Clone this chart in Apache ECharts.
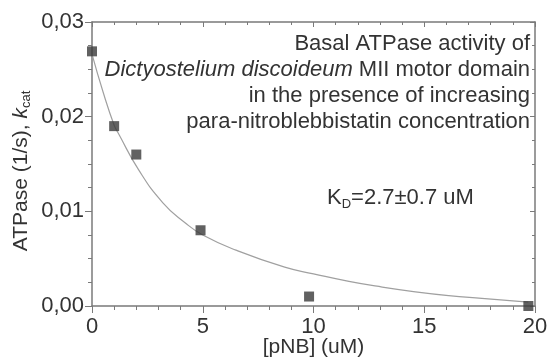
<!DOCTYPE html>
<html>
<head>
<meta charset="utf-8">
<script src="https://cdn.jsdelivr.net/npm/echarts@6/dist/echarts.min.js"></script>
<style>
  html, body { margin: 0; padding: 0; background: #fff; }
  #chart { width: 547px; height: 358px; }
</style>
</head>
<body>
<div id="chart"></div>
<script>
// measured points
const pnbConc = [0, 1, 2, 4.9, 9.8, 19.7];
const atpaseRate = [0.0269, 0.019, 0.016, 0.008, 0.001, 0.0];

// fitted curve
const fitX = [0, 0.5, 1, 1.2, 2.1, 3.2, 4.2, 5, 6.5, 8.7, 10, 11.6, 13.1, 14.6, 16.1, 17.6, 19.7];
const fitY = [0.0266, 0.0226, 0.0191, 0.0182, 0.0144, 0.0109, 0.0088, 0.0075, 0.0059, 0.0041, 0.0034, 0.0026, 0.0020, 0.0015, 0.0011, 0.0008, 0.0004];

const xTicks = [0, 5, 10, 15, 20];
const yTicks = [0, 0.01, 0.02, 0.03];

const noteLines = [
  "Basal ATPase activity of",
  "{i|Dictyostelium discoideum} MII motor domain",
  "in the presence of increasing",
  "para-nitroblebbistatin concentration"
];
const kdText = "K{s|D}=2.7±0.7 uM";

const axisGrey = "#7a7a7a";
const textCol = "#333";
const font = "'Liberation Sans', Arial, sans-serif";

const chart = echarts.init(document.getElementById("chart"), null, { renderer: "canvas" });

const fitData = fitX.map((x, i) => [x, fitY[i]]);
const pointData = pnbConc.map((x, i) => [x, atpaseRate[i]]);

const baseX = {
  type: "value",
  min: xTicks[0],
  max: xTicks[xTicks.length - 1],
  interval: 5,
  splitLine: { show: false },
  axisLine: { show: true, onZero: false, lineStyle: { color: axisGrey, width: 1.5 } },
  minorTick: { show: true, splitNumber: 5, length: 4, lineStyle: { color: axisGrey, width: 1 } },
  axisTick: { show: true, length: 7, lineStyle: { color: axisGrey, width: 1 } }
};
const baseY = {
  type: "value",
  min: yTicks[0],
  max: yTicks[yTicks.length - 1],
  interval: 0.01,
  splitLine: { show: false },
  axisLine: { show: true, onZero: false, lineStyle: { color: axisGrey, width: 1.5 } },
  minorTick: { show: true, splitNumber: 4, length: 4, lineStyle: { color: axisGrey, width: 1 } },
  axisTick: { show: true, length: 7, lineStyle: { color: axisGrey, width: 1 } }
};

// annotation block, one right-aligned text per line
const noteGraphics = noteLines.map((line, i) => ({
  type: "text",
  x: 530,
  y: 44 + i * 26,
  style: {
    text: line,
    align: "right",
    verticalAlign: "middle",
    fill: textCol,
    font: "22px " + font,
    rich: {
      i: { fontStyle: "italic", fontSize: 22, fontFamily: font, fill: textCol }
    }
  }
}));

const option = {
  animation: false,
  backgroundColor: "#fff",
  textStyle: { fontFamily: font },
  grid: { left: 92, right: 12, top: 22, bottom: 52, outerBoundsMode: "none", containLabel: false },
  xAxis: [
    Object.assign({}, baseX, {
      position: "bottom",
      name: "[pNB] (uM)",
      nameLocation: "middle",
      nameGap: 31,
      nameMoveOverlap: false,
      nameTextStyle: { fontSize: 21, color: textCol, fontFamily: font },
      axisLabel: { fontSize: 22, color: textCol, margin: 10, fontFamily: font }
    }),
    Object.assign({}, baseX, {
      position: "top",
      axisLabel: { show: false },
      axisTick: Object.assign({}, baseX.axisTick, { inside: true, length: 5 }),
      minorTick: Object.assign({}, baseX.minorTick, { length: 3 })
    })
  ],
  yAxis: [
    Object.assign({}, baseY, {
      position: "left",
      name: "{a|ATPase (1/s), }{k|k}{s|cat}",
      nameLocation: "middle",
      nameRotate: 90,
      nameGap: 59,
      nameMoveOverlap: false,
      nameTextStyle: {
        color: textCol,
        fontFamily: font,
        fontSize: 21,
        padding: [0, 14, 0, 0],
        rich: {
          a: { fontSize: 21, color: textCol, fontFamily: font },
          k: { fontSize: 21, color: textCol, fontFamily: font, fontStyle: "italic" },
          s: { fontSize: 13, color: textCol, fontFamily: font, padding: [10, 0, 0, 0] }
        }
      },
      axisLabel: {
        fontSize: 22,
        color: textCol,
        margin: 8,
        fontFamily: font,
        formatter: v => v.toFixed(2).replace(".", ",")
      }
    }),
    Object.assign({}, baseY, {
      position: "right",
      axisLabel: { show: false },
      axisTick: Object.assign({}, baseY.axisTick, { inside: true, length: 5 }),
      minorTick: Object.assign({}, baseY.minorTick, { length: 3 })
    })
  ],
  series: [
    {
      type: "line",
      data: fitData,
      smooth: true,
      showSymbol: false,
      lineStyle: { color: "#a0a0a0", width: 1.2 },
      z: 2
    },
    {
      type: "scatter",
      data: pointData,
      symbol: "rect",
      symbolSize: 10,
      itemStyle: { color: "#3a3a3a" },
      z: 3
    }
  ],
  graphic: noteGraphics.concat([
    {
      type: "text",
      x: 327,
      y: 198,
      style: {
        text: kdText,
        verticalAlign: "middle",
        fill: textCol,
        font: "22px " + font,
        rich: {
          s: { fontSize: 13, fontFamily: font, fill: textCol, padding: [12, 0, 0, 0] }
        }
      }
    }
  ])
};

chart.setOption(option);
</script>
</body>
</html>
